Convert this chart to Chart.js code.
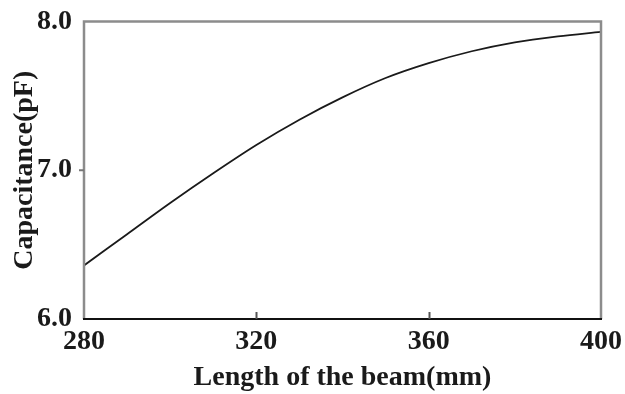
<!DOCTYPE html>
<html>
<head>
<meta charset="utf-8">
<script src="https://cdn.jsdelivr.net/npm/chart.js@4/dist/chart.umd.min.js"></script>
<style>
  html, body { margin: 0; padding: 0; background: #fff; }
  #wrap { width: 625px; height: 394px; position: relative; }
</style>
</head>
<body>
<div id="wrap"><canvas id="c"></canvas></div>
<script>
// Beam length (mm) and capacitance (pF)
const beamLength = [280, 290, 300, 310, 320, 330, 340, 350, 360, 370, 380, 390, 400];
const capacitance = [6.36, 6.57, 6.78, 6.98, 7.17, 7.34, 7.49, 7.62, 7.72, 7.80, 7.86, 7.90, 7.93];
const xTicks = [280, 320, 360, 400];
const yTicks = [6.0, 7.0, 8.0];

const serif = '"Liberation Serif", "Times New Roman", serif';

// Draws the box around the plot and the small tick marks
const framePlugin = {
  id: 'frame',
  afterDatasetsDraw(chart) {
    const { ctx, chartArea: a, scales: { x, y } } = chart;
    ctx.save();
    ctx.lineCap = 'butt';
    // left, top, right sides in grey
    ctx.strokeStyle = '#8c8c8c';
    ctx.lineWidth = 2.5;
    ctx.beginPath();
    ctx.moveTo(a.left, a.bottom);
    ctx.lineTo(a.left, a.top);
    ctx.lineTo(a.right, a.top);
    ctx.lineTo(a.right, a.bottom);
    ctx.stroke();
    // bottom axis in black
    ctx.strokeStyle = '#111';
    ctx.lineWidth = 2;
    ctx.beginPath();
    ctx.moveTo(a.left - 1, a.bottom);
    ctx.lineTo(a.right + 1, a.bottom);
    ctx.stroke();
    // inner ticks on the x axis
    ctx.strokeStyle = '#555';
    ctx.lineWidth = 2;
    xTicks.slice(1, -1).forEach(v => {
      const px = Math.round(x.getPixelForValue(v)) + 0.5;
      ctx.beginPath();
      ctx.moveTo(px, a.bottom);
      ctx.lineTo(px, a.bottom - 7);
      ctx.stroke();
    });
    // outer ticks on the y axis
    ctx.strokeStyle = '#777';
    yTicks.slice(1, -1).forEach(v => {
      const py = y.getPixelForValue(v);
      ctx.beginPath();
      ctx.moveTo(a.left, py);
      ctx.lineTo(a.left - 5, py);
      ctx.stroke();
    });
    ctx.restore();
  }
};

new Chart(document.getElementById('c'), {
  type: 'line',
  data: {
    datasets: [{
      data: beamLength.map((v, i) => ({ x: v, y: capacitance[i] })),
      borderColor: '#1a1a1a',
      borderWidth: 1.8,
      pointRadius: 0,
      cubicInterpolationMode: 'monotone',
      fill: false
    }]
  },
  options: {
    responsive: true,
    maintainAspectRatio: false,
    animation: false,
    devicePixelRatio: 1,
    layout: { padding: { left: 0, right: 24, top: 21.5, bottom: 0 } },
    plugins: { legend: { display: false }, tooltip: { enabled: false } },
    scales: {
      x: {
        type: 'linear',
        min: 280,
        max: 400,
        afterBuildTicks(s) { s.ticks = xTicks.map(v => ({ value: v })); },
        afterFit(s) { s.height = 75; s.paddingLeft = 0; s.paddingRight = 0; },
        border: { display: false },
        grid: { display: false, drawTicks: false, tickLength: 0 },
        ticks: {
          padding: 6,
          color: '#1a1a1a',
          font: { family: serif, size: 28, weight: 'bold' },
          callback: v => String(v)
        },
        title: {
          display: true,
          text: 'Length of the beam(mm)',
          color: '#1a1a1a',
          font: { family: serif, size: 28, weight: 'bold', lineHeight: 1 },
          padding: { top: 0, bottom: 2 }
        }
      },
      y: {
        type: 'linear',
        min: 6,
        max: 8,
        afterBuildTicks(s) { s.ticks = yTicks.map(v => ({ value: v })); },
        afterFit(s) { s.width = 84; s.paddingTop = 0; s.paddingBottom = 0; },
        border: { display: false },
        grid: { display: false, drawTicks: false, tickLength: 0 },
        ticks: {
          padding: 12,
          color: '#1a1a1a',
          font: { family: serif, size: 28, weight: 'bold' },
          callback: v => v.toFixed(1)
        },
        title: {
          display: true,
          text: 'Capacitance(pF)',
          color: '#1a1a1a',
          font: { family: serif, size: 28, weight: 'bold', lineHeight: 1 },
          padding: { top: 11, bottom: 0 }
        }
      }
    }
  },
  plugins: [framePlugin]
});
</script>
</body>
</html>
